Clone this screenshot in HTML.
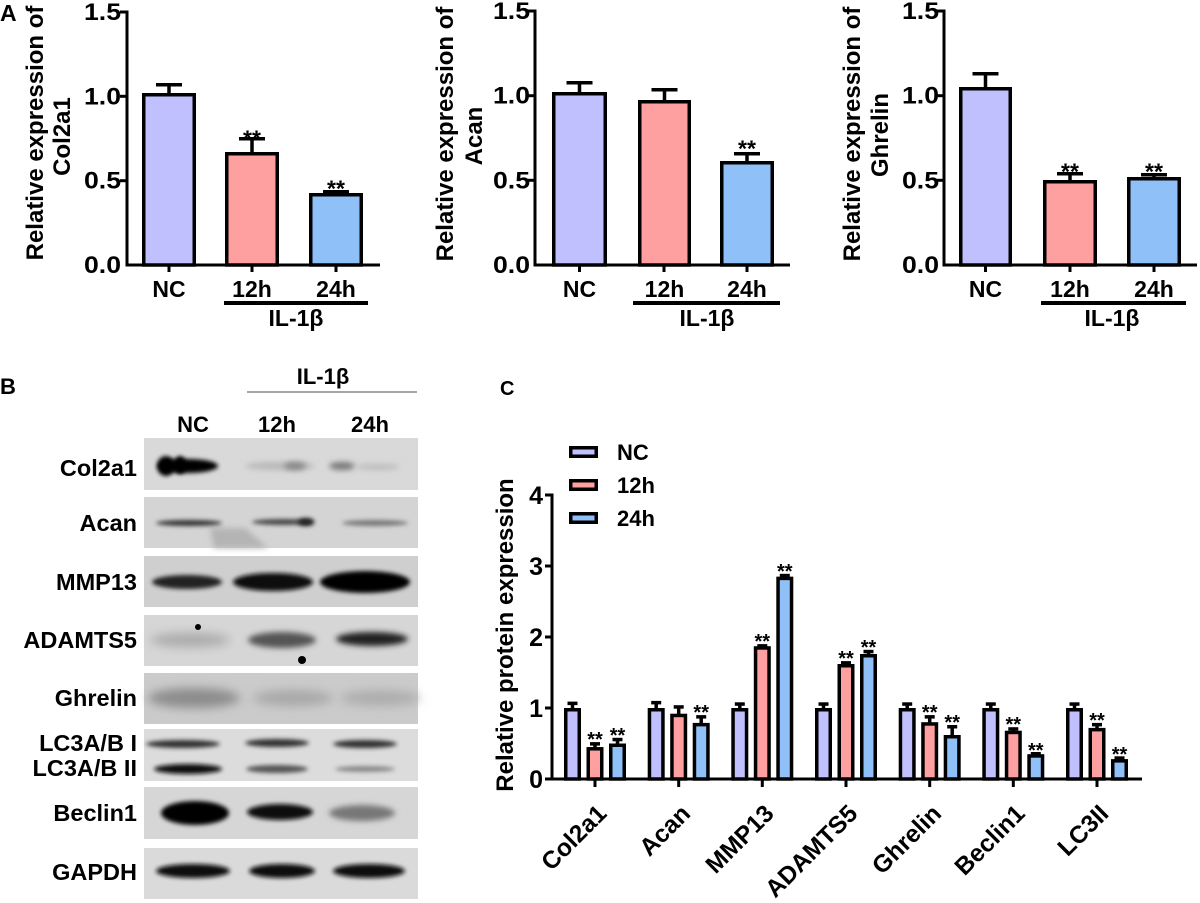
<!DOCTYPE html>
<html><head><meta charset="utf-8"><style>
html,body{margin:0;padding:0;background:#fff;}
svg{display:block;font-family:"Liberation Sans",Arial,sans-serif;}
.b{font-weight:bold;}
</style></head><body>
<svg width="1200" height="903" viewBox="0 0 1200 903" xmlns="http://www.w3.org/2000/svg">
<defs>
<filter id="f2" x="-30%" y="-100%" width="160%" height="300%"><feGaussianBlur stdDeviation="2"/></filter>
<filter id="f3" x="-30%" y="-100%" width="160%" height="300%"><feGaussianBlur stdDeviation="3"/></filter>
<filter id="f5" x="-30%" y="-100%" width="160%" height="300%"><feGaussianBlur stdDeviation="5"/></filter>
</defs>

<!-- ===== Panel A ===== -->
<text x="0" y="21" class="b" font-size="23">A</text>

<!-- Chart A1 -->
<g stroke="#000" stroke-width="3" fill="none">
<line x1="127" y1="10.5" x2="127" y2="266.5"/>
<line x1="125.5" y1="265" x2="380" y2="265"/>
<line x1="120" y1="12" x2="127" y2="12"/><line x1="120" y1="96.3" x2="127" y2="96.3"/>
<line x1="120" y1="180.7" x2="127" y2="180.7"/>
<line x1="169" y1="265" x2="169" y2="272"/><line x1="252" y1="265" x2="252" y2="272"/><line x1="336" y1="265" x2="336" y2="272"/>
</g>
<g class="b" font-size="24" text-anchor="end">
<text x="121" y="20" textLength="37" lengthAdjust="spacingAndGlyphs">1.5</text>
<text x="121" y="104.3" textLength="37" lengthAdjust="spacingAndGlyphs">1.0</text>
<text x="121" y="188.7" textLength="37" lengthAdjust="spacingAndGlyphs">0.5</text>
<text x="121" y="273" textLength="37" lengthAdjust="spacingAndGlyphs">0.0</text>
</g>
<g stroke="#000" stroke-width="3.5">
<rect x="143.75" y="94.75" width="50.5" height="170.25" fill="#c0c0ff"/>
<rect x="226.75" y="153.75" width="50.5" height="111.25" fill="#ffa0a0"/>
<rect x="310.75" y="194.75" width="50.5" height="70.25" fill="#90c0f8"/>
<line x1="169" y1="94" x2="169" y2="84.75"/><line x1="156" y1="84.75" x2="182" y2="84.75"/>
<line x1="252" y1="153" x2="252" y2="138.75"/><line x1="239" y1="138.75" x2="265" y2="138.75"/>
<line x1="336" y1="194" x2="336" y2="191.75"/><line x1="323" y1="191.75" x2="349" y2="191.75"/>
</g>
<g class="b" font-size="23" text-anchor="middle">
<text x="252" y="146.5">**</text><text x="336" y="196.5">**</text>
</g>
<g class="b" font-size="23" text-anchor="middle">
<text x="169" y="297">NC</text><text x="252" y="297">12h</text><text x="336" y="297">24h</text>
<text x="296" y="326">IL-1β</text>
</g>
<rect x="224" y="301" width="144" height="4" fill="#000"/>
<g class="b" font-size="24" text-anchor="middle">
<text transform="translate(43,133) rotate(-90)">Relative expression of</text>
<text transform="translate(70,136.5) rotate(-90)">Col2a1</text>
</g>

<!-- Chart A2 -->
<g stroke="#000" stroke-width="3" fill="none">
<line x1="535" y1="9.5" x2="535" y2="266.5"/>
<line x1="533.5" y1="265" x2="790" y2="265"/>
<line x1="528" y1="11" x2="535" y2="11"/><line x1="528" y1="95.7" x2="535" y2="95.7"/>
<line x1="528" y1="180.3" x2="535" y2="180.3"/>
<line x1="579.5" y1="265" x2="579.5" y2="272"/><line x1="664" y1="265" x2="664" y2="272"/><line x1="747" y1="265" x2="747" y2="272"/>
</g>
<g class="b" font-size="24" text-anchor="end">
<text x="530" y="19" textLength="37" lengthAdjust="spacingAndGlyphs">1.5</text>
<text x="530" y="103.7" textLength="37" lengthAdjust="spacingAndGlyphs">1.0</text>
<text x="530" y="188.3" textLength="37" lengthAdjust="spacingAndGlyphs">0.5</text>
<text x="530" y="273" textLength="37" lengthAdjust="spacingAndGlyphs">0.0</text>
</g>
<g stroke="#000" stroke-width="3.5">
<rect x="553.75" y="93.75" width="51.5" height="171.25" fill="#c0c0ff"/>
<rect x="639.75" y="101.75" width="49.5" height="163.25" fill="#ffa0a0"/>
<rect x="721.75" y="162.75" width="50.5" height="102.25" fill="#90c0f8"/>
<line x1="579.5" y1="93" x2="579.5" y2="82.75"/><line x1="566.5" y1="82.75" x2="592.5" y2="82.75"/>
<line x1="664.5" y1="101" x2="664.5" y2="89.75"/><line x1="651.5" y1="89.75" x2="677.5" y2="89.75"/>
<line x1="747" y1="162" x2="747" y2="153.75"/><line x1="734" y1="153.75" x2="760" y2="153.75"/>
</g>
<g class="b" font-size="23" text-anchor="middle"><text x="747" y="156.5">**</text></g>
<g class="b" font-size="23" text-anchor="middle">
<text x="579.5" y="297">NC</text><text x="664.5" y="297">12h</text><text x="747" y="297">24h</text>
<text x="707" y="326">IL-1β</text>
</g>
<rect x="633" y="301" width="147" height="4" fill="#000"/>
<g class="b" font-size="24" text-anchor="middle">
<text transform="translate(453,134) rotate(-90)">Relative expression of</text>
<text transform="translate(482,136) rotate(-90)">Acan</text>
</g>

<!-- Chart A3 -->
<g stroke="#000" stroke-width="3" fill="none">
<line x1="944" y1="9.5" x2="944" y2="266.5"/>
<line x1="942.5" y1="265" x2="1197" y2="265"/>
<line x1="937" y1="11" x2="944" y2="11"/><line x1="937" y1="95.7" x2="944" y2="95.7"/>
<line x1="937" y1="180.3" x2="944" y2="180.3"/>
<line x1="985.5" y1="265" x2="985.5" y2="272"/><line x1="1070" y1="265" x2="1070" y2="272"/><line x1="1154" y1="265" x2="1154" y2="272"/>
</g>
<g class="b" font-size="24" text-anchor="end">
<text x="939" y="19" textLength="37" lengthAdjust="spacingAndGlyphs">1.5</text>
<text x="939" y="103.7" textLength="37" lengthAdjust="spacingAndGlyphs">1.0</text>
<text x="939" y="188.3" textLength="37" lengthAdjust="spacingAndGlyphs">0.5</text>
<text x="939" y="273" textLength="37" lengthAdjust="spacingAndGlyphs">0.0</text>
</g>
<g stroke="#000" stroke-width="3.5">
<rect x="960.75" y="88.75" width="49.5" height="176.25" fill="#c0c0ff"/>
<rect x="1044.75" y="181.75" width="50.5" height="83.25" fill="#ffa0a0"/>
<rect x="1128.75" y="178.75" width="50.5" height="86.25" fill="#90c0f8"/>
<line x1="985.5" y1="88" x2="985.5" y2="73.75"/><line x1="972.5" y1="73.75" x2="998.5" y2="73.75"/>
<line x1="1070" y1="181" x2="1070" y2="173.75"/><line x1="1057" y1="173.75" x2="1083" y2="173.75"/>
<line x1="1154" y1="178" x2="1154" y2="174.75"/><line x1="1141" y1="174.75" x2="1167" y2="174.75"/>
</g>
<g class="b" font-size="23" text-anchor="middle"><text x="1070" y="179.5">**</text><text x="1154" y="179.5">**</text></g>
<g class="b" font-size="23" text-anchor="middle">
<text x="985.5" y="297">NC</text><text x="1070" y="297">12h</text><text x="1154" y="297">24h</text>
<text x="1112" y="326">IL-1β</text>
</g>
<rect x="1041" y="301" width="145" height="4" fill="#000"/>
<g class="b" font-size="24" text-anchor="middle">
<text transform="translate(860,134) rotate(-90)">Relative expression of</text>
<text transform="translate(888,135) rotate(-90)">Ghrelin</text>
</g>

<!-- ===== Panel B ===== -->
<text x="0" y="394" class="b" font-size="22">B</text>
<g class="b" font-size="22" text-anchor="middle">
<text x="323" y="384">IL-1β</text>
<text x="193" y="432">NC</text><text x="277" y="432">12h</text><text x="370" y="432">24h</text>
</g>
<line x1="247" y1="392" x2="417" y2="392" stroke="#888" stroke-width="1.5"/>

<!-- blot backgrounds -->
<rect x="144" y="438" width="274" height="52" fill="#d9d9d9"/>
<rect x="144" y="497" width="274" height="51" fill="#d4d4d4"/>
<rect x="144" y="556" width="274" height="51" fill="#cfcfcf"/>
<rect x="144" y="615" width="274" height="51" fill="#d6d6d6"/>
<rect x="144" y="673" width="274" height="51" fill="#cbcbcb"/>
<rect x="144" y="729" width="274" height="52" fill="#dcdcdc"/>
<rect x="144" y="787" width="274" height="52" fill="#d6d6d6"/>
<rect x="144" y="848" width="274" height="51" fill="#dadada"/>

<!-- bands -->
<g>
<!-- Col2a1 -->
<ellipse cx="188" cy="466" rx="30" ry="7" fill="#000" filter="url(#f2)"/>
<ellipse cx="166" cy="466" rx="9" ry="10" fill="#000" filter="url(#f2)"/>
<ellipse cx="180" cy="465" rx="6" ry="9" fill="#000" filter="url(#f2)"/>
<ellipse cx="280" cy="466" rx="35" ry="4" fill="#b8b8b8" filter="url(#f3)"/>
<ellipse cx="295" cy="466" rx="11" ry="4" fill="#888" filter="url(#f3)"/>
<ellipse cx="342" cy="466" rx="13" ry="4" fill="#777" filter="url(#f3)"/>
<ellipse cx="378" cy="467" rx="22" ry="3" fill="#bbb" filter="url(#f3)"/>
<!-- Acan -->
<polygon points="210,528 245,528 268,548 214,548" fill="#b4b4b4" filter="url(#f3)"/>
<ellipse cx="189" cy="523" rx="33" ry="3" fill="#333" filter="url(#f2)"/>
<ellipse cx="283" cy="522" rx="31" ry="3" fill="#444" filter="url(#f2)"/>
<ellipse cx="306" cy="522" rx="8" ry="4" fill="#222" filter="url(#f2)"/>
<ellipse cx="375" cy="523" rx="33" ry="3" fill="#777" filter="url(#f2)"/>
<!-- MMP13 -->
<ellipse cx="187" cy="582" rx="35" ry="7" fill="#222" filter="url(#f2)"/>
<ellipse cx="273" cy="582" rx="40" ry="9" fill="#111" filter="url(#f2)"/>
<ellipse cx="365" cy="582" rx="45" ry="11" fill="#000" filter="url(#f2)"/>
<!-- ADAMTS5 -->
<ellipse cx="190" cy="640" rx="40" ry="7" fill="#aaa" filter="url(#f5)"/>
<ellipse cx="282" cy="640" rx="34" ry="8" fill="#555" filter="url(#f3)"/>
<ellipse cx="372" cy="639" rx="36" ry="7" fill="#222" filter="url(#f3)"/>
<circle cx="198" cy="627" r="3" fill="#000"/>
<circle cx="302" cy="660" r="4" fill="#000"/>
<!-- Ghrelin -->
<ellipse cx="194" cy="698" rx="46" ry="10" fill="#8c8c8c" filter="url(#f5)"/>
<ellipse cx="293" cy="698" rx="40" ry="8" fill="#a8a8a8" filter="url(#f5)"/>
<ellipse cx="380" cy="698" rx="40" ry="8" fill="#adadad" filter="url(#f5)"/>
<!-- LC3 I / II -->
<ellipse cx="183" cy="744" rx="37" ry="4" fill="#333" filter="url(#f2)"/>
<ellipse cx="277" cy="743" rx="32" ry="4" fill="#333" filter="url(#f2)"/>
<ellipse cx="365" cy="744" rx="32" ry="4" fill="#333" filter="url(#f2)"/>
<ellipse cx="188" cy="769" rx="34" ry="5" fill="#111" filter="url(#f2)"/>
<ellipse cx="277" cy="769" rx="31" ry="4" fill="#555" filter="url(#f2)"/>
<ellipse cx="365" cy="769" rx="30" ry="3" fill="#888" filter="url(#f2)"/>
<!-- Beclin1 -->
<ellipse cx="195" cy="813" rx="34" ry="12" fill="#000" filter="url(#f2)"/>
<ellipse cx="280" cy="812" rx="33" ry="8" fill="#111" filter="url(#f2)"/>
<ellipse cx="362" cy="813" rx="33" ry="8" fill="#777" filter="url(#f3)"/>
<!-- GAPDH -->
<ellipse cx="193" cy="871" rx="37" ry="7" fill="#111" filter="url(#f2)"/>
<ellipse cx="282" cy="871" rx="33" ry="7" fill="#111" filter="url(#f2)"/>
<ellipse cx="369" cy="871" rx="36" ry="7" fill="#111" filter="url(#f2)"/>
</g>

<g class="b" font-size="23.5" text-anchor="end">
<text x="137" y="476">Col2a1</text>
<text x="137" y="531">Acan</text>
<text x="137" y="590">MMP13</text>
<text x="137" y="648">ADAMTS5</text>
<text x="137" y="706">Ghrelin</text>
<text x="137" y="751">LC3A/B I</text>
<text x="137" y="776">LC3A/B II</text>
<text x="137" y="821">Beclin1</text>
<text x="137" y="880">GAPDH</text>
</g>

<!-- ===== Panel C ===== -->
<text x="500" y="395" class="b" font-size="20">C</text>
<!-- legend -->
<g stroke="#000" stroke-width="3.5">
<rect x="570.75" y="447.75" width="25.5" height="8.5" fill="#c0c0ff"/>
<rect x="570.75" y="480.75" width="25.5" height="8.5" fill="#ffa0a0"/>
<rect x="570.75" y="513.75" width="25.5" height="8.5" fill="#90c0f8"/>
</g>
<g class="b" font-size="22">
<text x="617" y="460">NC</text><text x="617" y="493">12h</text><text x="617" y="526">24h</text>
</g>
<!-- axes -->
<g stroke="#000" stroke-width="3" fill="none">
<line x1="552" y1="493.5" x2="552" y2="780.5"/>
<line x1="545" y1="779" x2="1142" y2="779"/>
<line x1="545" y1="495" x2="552" y2="495"/><line x1="545" y1="566" x2="552" y2="566"/>
<line x1="545" y1="637" x2="552" y2="637"/><line x1="545" y1="708" x2="552" y2="708"/>
<line x1="595" y1="779" x2="595" y2="787"/><line x1="678.7" y1="779" x2="678.7" y2="787"/>
<line x1="762.3" y1="779" x2="762.3" y2="787"/><line x1="846" y1="779" x2="846" y2="787"/>
<line x1="929.7" y1="779" x2="929.7" y2="787"/><line x1="1013.3" y1="779" x2="1013.3" y2="787"/>
<line x1="1097" y1="779" x2="1097" y2="787"/>
</g>
<g class="b" font-size="25" text-anchor="end">
<text x="543" y="504">4</text><text x="543" y="575">3</text><text x="543" y="646">2</text>
<text x="543" y="717">1</text><text x="543" y="788">0</text>
</g>
<g class="b" font-size="24" text-anchor="middle">
<text transform="translate(513,635) rotate(-90)">Relative protein expression</text>
</g>

<!-- bars C -->
<g stroke="#000" stroke-width="3.5">
<rect x="565.75" y="709.75" width="13.5" height="69.25" fill="#c0c0ff"/>
<rect x="588.25" y="748.8" width="13.5" height="30.2" fill="#ffa0a0"/>
<rect x="610.75" y="745.25" width="13.5" height="33.75" fill="#90c0f8"/>
<line x1="572.5" y1="710" x2="572.5" y2="703.35"/><line x1="567.5" y1="703.35" x2="577.5" y2="703.35"/>
<line x1="595" y1="749" x2="595" y2="743.85"/><line x1="590" y1="743.85" x2="600" y2="743.85"/>
<line x1="617.5" y1="745" x2="617.5" y2="739.55"/><line x1="612.5" y1="739.55" x2="622.5" y2="739.55"/>
<rect x="649.45" y="709.75" width="13.5" height="69.25" fill="#c0c0ff"/>
<rect x="671.95" y="715.45" width="13.5" height="63.55" fill="#ffa0a0"/>
<rect x="694.45" y="724.65" width="13.5" height="54.35" fill="#90c0f8"/>
<line x1="656.2" y1="710" x2="656.2" y2="702.65"/><line x1="651.2" y1="702.65" x2="661.2" y2="702.65"/>
<line x1="678.7" y1="715" x2="678.7" y2="706.95"/><line x1="673.7" y1="706.95" x2="683.7" y2="706.95"/>
<line x1="701.2" y1="724" x2="701.2" y2="716.85"/><line x1="696.2" y1="716.85" x2="706.2" y2="716.85"/>
<rect x="733.05" y="709.75" width="13.5" height="69.25" fill="#c0c0ff"/>
<rect x="755.55" y="647.95" width="13.5" height="131.05" fill="#ffa0a0"/>
<rect x="778.05" y="578.4" width="13.5" height="200.6" fill="#90c0f8"/>
<line x1="739.8" y1="710" x2="739.8" y2="704.05"/><line x1="734.8" y1="704.05" x2="744.8" y2="704.05"/>
<line x1="762.3" y1="648" x2="762.3" y2="645.85"/><line x1="757.3" y1="645.85" x2="767.3" y2="645.85"/>
<line x1="784.8" y1="578" x2="784.8" y2="575.55"/><line x1="779.8" y1="575.55" x2="789.8" y2="575.55"/>
<rect x="816.75" y="709.75" width="13.5" height="69.25" fill="#c0c0ff"/>
<rect x="839.25" y="665.75" width="13.5" height="113.25" fill="#ffa0a0"/>
<rect x="861.75" y="655.75" width="13.5" height="123.25" fill="#90c0f8"/>
<line x1="823.5" y1="710" x2="823.5" y2="704.05"/><line x1="818.5" y1="704.05" x2="828.5" y2="704.05"/>
<line x1="846" y1="665" x2="846" y2="662.85"/><line x1="841" y1="662.85" x2="851" y2="662.85"/>
<line x1="868.5" y1="655" x2="868.5" y2="651.55"/><line x1="863.5" y1="651.55" x2="873.5" y2="651.55"/>
<rect x="900.45" y="709.75" width="13.5" height="69.25" fill="#c0c0ff"/>
<rect x="922.95" y="723.95" width="13.5" height="55.05" fill="#ffa0a0"/>
<rect x="945.45" y="736.75" width="13.5" height="42.25" fill="#90c0f8"/>
<line x1="907.2" y1="710" x2="907.2" y2="704.05"/><line x1="902.2" y1="704.05" x2="912.2" y2="704.05"/>
<line x1="929.7" y1="723" x2="929.7" y2="716.85"/><line x1="924.7" y1="716.85" x2="934.7" y2="716.85"/>
<line x1="952.2" y1="736" x2="952.2" y2="726.75"/><line x1="947.2" y1="726.75" x2="957.2" y2="726.75"/>
<rect x="984.05" y="709.75" width="13.5" height="69.25" fill="#c0c0ff"/>
<rect x="1006.55" y="732.45" width="13.5" height="46.55" fill="#ffa0a0"/>
<rect x="1029.05" y="755.95" width="13.5" height="23.05" fill="#90c0f8"/>
<line x1="990.8" y1="710" x2="990.8" y2="704.05"/><line x1="985.8" y1="704.05" x2="995.8" y2="704.05"/>
<line x1="1013.3" y1="732" x2="1013.3" y2="728.95"/><line x1="1008.3" y1="728.95" x2="1018.3" y2="728.95"/>
<line x1="1035.8" y1="755" x2="1035.8" y2="753.75"/><line x1="1030.8" y1="753.75" x2="1040.8" y2="753.75"/>
<rect x="1067.75" y="709.75" width="13.5" height="69.25" fill="#c0c0ff"/>
<rect x="1090.25" y="729.65" width="13.5" height="49.35" fill="#ffa0a0"/>
<rect x="1112.75" y="760.85" width="13.5" height="18.15" fill="#90c0f8"/>
<line x1="1074.5" y1="710" x2="1074.5" y2="704.05"/><line x1="1069.5" y1="704.05" x2="1079.5" y2="704.05"/>
<line x1="1097" y1="729" x2="1097" y2="724.65"/><line x1="1092" y1="724.65" x2="1102" y2="724.65"/>
<line x1="1119.5" y1="760" x2="1119.5" y2="758.05"/><line x1="1114.5" y1="758.05" x2="1124.5" y2="758.05"/>
</g>
<g class="b" font-size="20" text-anchor="middle">
<text x="595" y="746">**</text><text x="617.5" y="742">**</text>
<text x="701.2" y="719">**</text>
<text x="762.3" y="648">**</text><text x="784.8" y="578">**</text>
<text x="846" y="665">**</text><text x="868.5" y="654">**</text>
<text x="929.7" y="719">**</text><text x="952.2" y="729">**</text>
<text x="1013.3" y="731">**</text><text x="1035.8" y="757">**</text>
<text x="1097" y="727">**</text><text x="1119.5" y="761">**</text>
</g>
<g class="b" font-size="24.5" text-anchor="end">
<text transform="translate(608,815) rotate(-45)">Col2a1</text>
<text transform="translate(691.7,815) rotate(-45)">Acan</text>
<text transform="translate(775.3,815) rotate(-45)">MMP13</text>
<text transform="translate(859,815) rotate(-45)">ADAMTS5</text>
<text transform="translate(942.7,815) rotate(-45)">Ghrelin</text>
<text transform="translate(1026.3,815) rotate(-45)">Beclin1</text>
<text transform="translate(1110,815) rotate(-45)">LC3II</text>
</g>
</svg>
</body></html>
